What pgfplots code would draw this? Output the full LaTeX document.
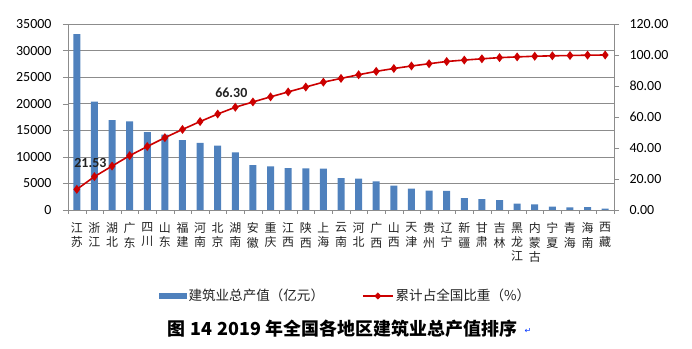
\documentclass[border=0pt]{standalone}
\usepackage{fontspec}
\setmainfont{Carlito}
\newfontfamily\cjk{Noto Sans CJK SC}
\newfontfamily\sym{DejaVu Sans}
\usepackage{pgfplots}
\usepackage{pgfplotstable}
\pgfplotsset{compat=1.18}

\pgfplotstableread{
x val cum
0 33104 13.32
1 20390 21.53
2 16917 28.34
3 16700 35.06
4 14650 40.96
5 14200 46.67
6 13150 51.97
7 12650 57.06
8 12100 61.93
9 10860 66.30
10 8450 69.70
11 8200 73.00
12 7900 76.18
13 7850 79.34
14 7800 82.48
15 6000 84.90
16 5900 87.27
17 5400 89.44
18 4600 91.29
19 4000 92.91
20 3650 94.37
21 3600 95.82
22 2250 96.73
23 2050 97.55
24 1850 98.30
25 1200 98.78
26 1050 99.20
27 650 99.47
28 500 99.67
29 550 99.89
30 276 100.00
}\data

\definecolor{barblue}{HTML}{4F81BD}
\definecolor{linered}{HTML}{CC0000}
\definecolor{gridgray}{HTML}{8C8C8C}
\definecolor{txt}{HTML}{222222}

\pgfplotsset{
  common/.style={
    at={(68bp,139bp)}, anchor=south west,
    scale only axis, width=546bp, height=186bp,
    xmin=-0.5, xmax=30.5,
    tick align=outside,
    major tick length=5bp,
    axis line style={gridgray},
    /pgf/number format/assume math mode=true,
    tick label style={font=\fontsize{14}{14}\selectfont, text=black},
  },
  barleg/.style={legend image code/.code={\fill[barblue] (0bp,-2.6bp) rectangle (27bp,2.6bp);}},
  redleg/.style={legend image code/.code={\draw[linered, line width=1.6bp] (0bp,0bp) -- (30bp,0bp); \fill[linered] (15bp,3.2bp) -- (18.2bp,0bp) -- (15bp,-3.2bp) -- (11.8bp,0bp) -- cycle;}},
}

\begin{document}
\begin{tikzpicture}
\path[use as bounding box] (0bp,0bp) rectangle (692bp,349bp);

\begin{axis}[common,
  ymin=0, ymax=35000,
  axis y line*=left, axis x line*=bottom,
  ytick={0,5000,...,35000},
  scaled y ticks=false,
  yticklabel style={xshift=-8bp, /pgf/number format/1000 sep={}},
  ymajorgrids, grid style={gridgray, line width=0.6bp},
  y tick style={gridgray},
  xtick={0,...,30},
  major x tick style={draw=none},
  minor xtick={-0.5,0.5,...,30.5},
  minor x tick style={gridgray},
  minor tick length=4bp,
  xticklabels={{江\\苏},{浙\\江},{湖\\北},{广\\东},{四\\川},{山\\东},{福\\建},{河\\南},{北\\京},{湖\\南},{安\\徽},{重\\庆},{江\\西},{陕\\西},{上\\海},{云\\南},{河\\北},{广\\西},{山\\西},{天\\津},{贵\\州},{辽\\宁},{新\\疆},{甘\\肃},{吉\\林},{黑\\龙\\江},{内\\蒙\\古},{宁\\夏},{青\\海},{海\\南},{西\\藏}},
  xticklabel style={font=\cjk\fontsize{12}{14.5}\selectfont, align=center, anchor=north, text=txt, yshift=-4bp},
]
\addplot[ybar, bar width=7bp, fill=barblue, draw=none, forget plot] table[x=x, y=val]{\data};
\end{axis}

\begin{axis}[common,
  ymin=0, ymax=120,
  axis y line*=right, axis x line=none,
  ytick={0,20,...,120},
  y tick style={gridgray},
  yticklabel style={xshift=7bp, /pgf/number format/fixed, /pgf/number format/fixed zerofill, /pgf/number format/precision=2},
  legend style={at={(0.5085,-0.462)}, anchor=center, draw=none, fill=none,
    legend columns=2, font=\cjk\fontsize{13.6}{15}\selectfont, text=txt,
    /tikz/every even column/.append style={column sep=36bp},
    inner sep=0pt},
  legend cell align=left,
]
\addplot[linered, line width=1.6bp, mark=diamond*, mark size=3.2bp, mark options={fill=linered, solid}, forget plot] table[x=x, y=cum]{\data};
\addplot[draw=none, mark=none, forget plot, nodes near coords, point meta=explicit symbolic,
  nodes near coords style={font=\bfseries\fontsize{14}{14}\selectfont, text=txt, anchor=center, yshift=14bp, xshift=-4bp}]
  coordinates {(1,21.53) [21.53] (9,66.30) [66.30]};
\addlegendimage{barleg}
\addlegendentry{建筑业总产值（亿元）}
\addlegendimage{redleg}
\addlegendentry{累计占全国比重（\%）}
\end{axis}

\node[font=\cjk\bfseries\fontsize{18}{18}\selectfont, text=black, anchor=west] at (164bp,20bp) {图\hspace{5bp}14\hspace{5bp}2019\hspace{5bp}年全国各地区建筑业总产值排序};
\node[font=\sym\fontsize{8}{8}\selectfont, text=blue!80!cyan, anchor=center] at (528bp,18bp) {↵};
\end{tikzpicture}
\end{document}
